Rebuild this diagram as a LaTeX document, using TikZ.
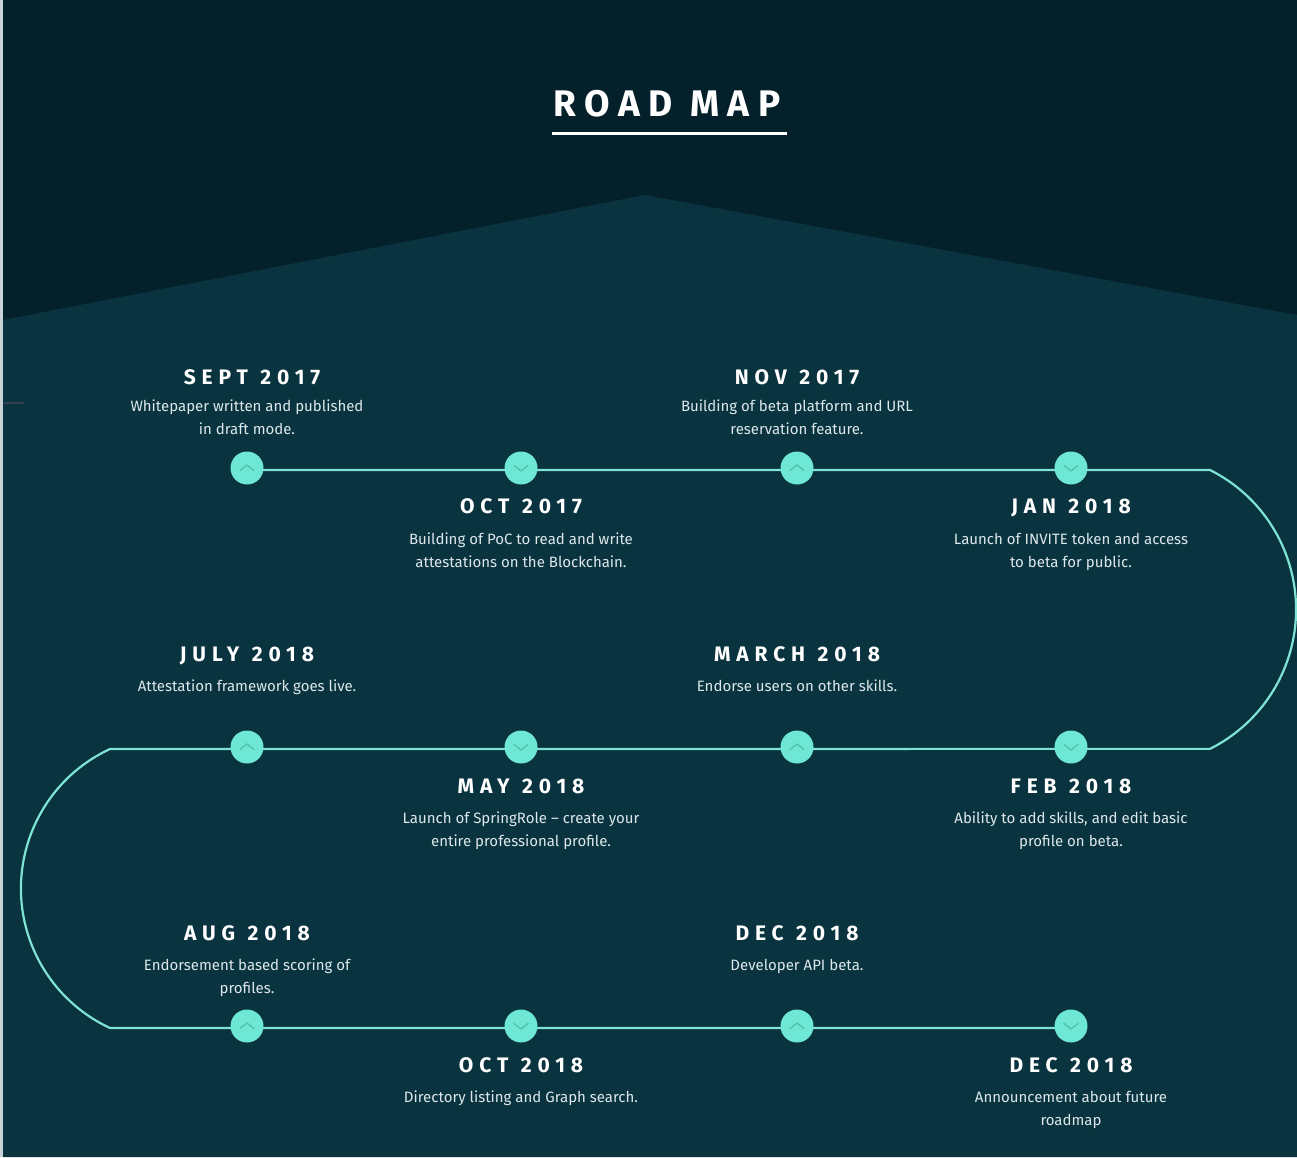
\documentclass[tikz,border=0pt]{standalone}
\usepackage{fontspec}
\setmainfont{Fira Sans}
\newfontfamily\headfont[LetterSpace=28,WordSpace=1.15]{Fira Sans}
\newfontfamily\titlefont[LetterSpace=23]{Fira Sans}
\definecolor{bgtop}{HTML}{04202A}
\definecolor{bgmain}{HTML}{0A3340}
\definecolor{mint}{HTML}{6EE8D4}
\definecolor{routec}{HTML}{7FE3D3}
\definecolor{chev}{HTML}{4CC4B0}
\definecolor{bodytxt}{HTML}{DCE8EA}
\definecolor{edgec}{HTML}{C9D2D6}
\definecolor{markc}{HTML}{34404E}
\begin{document}
\begin{tikzpicture}[x=1pt,y=-1pt,
  dot/.style={circle,fill=mint,minimum size=33pt,inner sep=0pt},
  route/.style={draw=routec,line width=2.2pt},
  chevup/.style={draw=chev,line width=1.4pt,line cap=round,line join=round},
  head/.style={font=\headfont\bfseries\fontsize{21}{24}\selectfont,text=white,anchor=base,inner sep=0pt},
  desc/.style={font=\fontsize{15}{23}\selectfont,text=bodytxt,align=center,anchor=north,inner sep=0pt},
]
\useasboundingbox (0,0) rectangle (1297,1157);
\fill[bgtop] (0,0) rectangle (1297,1157);
\fill[bgmain] (3,320) -- (645,195) -- (1297,315) -- (1297,1157) -- (3,1157) -- cycle;
\fill[edgec] (0,0) rectangle (2.5,1157);
\coordinate (m1) at (4,403); \coordinate (m2) at (24,403);
\draw[markc,line width=1.8pt] (m1) -- (m2);

% title
\node[font=\titlefont\bfseries\fontsize{37}{40}\selectfont,text=white,inner sep=0pt,anchor=base] (title) at (667,116) {ROAD MAP};
\coordinate (ul1) at (552,133); \coordinate (ul2) at (787,133);
\draw[white,line width=3pt] (ul1) -- (ul2);

% route
\foreach \r/\y in {1/470,2/749,3/1028}{
  \foreach \c/\x in {1/247,2/521,3/797,4/1071}{
    \coordinate (p\r\c) at (\x,\y);
  }
}
\coordinate (r1e) at (1210,470);
\coordinate (r2w) at (110,749);
\draw[route] (p11) -- (r1e) arc[start angle=-63.35,end angle=63.35,radius=156]
  -- (r2w) arc[start angle=245.1,end angle=114.9,radius=153.8] -- (p34);

% circles with chevrons
\foreach \r in {1,2,3}{
  \foreach \c in {1,3}{
    \node[dot] (c\r\c) at ([yshift=2pt]p\r\c) {};
    \draw[chevup] ([shift={(-7,2.5)}]c\r\c.center) -- ([shift={(0,-3)}]c\r\c.center) -- ([shift={(7,2.5)}]c\r\c.center);
  }
  \foreach \c in {2,4}{
    \node[dot] (c\r\c) at ([yshift=2pt]p\r\c) {};
    \draw[chevup] ([shift={(-7,-2.5)}]c\r\c.center) -- ([shift={(0,3)}]c\r\c.center) -- ([shift={(7,-2.5)}]c\r\c.center);
  }
}

% row 1
\node[head] (h1) at (252,384) {SEPT 2017};
\node[desc] (d1) at (247,400) {Whitepaper written and published\\in draft mode.};
\node[head] (h3) at (797,384) {NOV 2017};
\node[desc] (d3) at (797,400) {Building of beta platform and URL\\reservation feature.};
\node[head] (h2) at (521,513) {OCT 2017};
\node[desc] (d2) at (521,533) {Building of PoC to read and write\\attestations on the Blockchain.};
\node[head] (h4) at (1071,513) {JAN 2018};
\node[desc] (d4) at (1071,533) {Launch of INVITE token and access\\to beta for public.};

% row 2
\node[head] (h8) at (247,661) {JULY 2018};
\node[desc] (d8) at (247,680) {Attestation framework goes live.};
\node[head] (h6) at (797,661) {MARCH 2018};
\node[desc] (d6) at (797,680) {Endorse users on other skills.};
\node[head] (h7) at (521,793) {MAY 2018};
\node[desc] (d7) at (521,812) {Launch of SpringRole – create your\\entire professional profile.};
\node[head] (h5) at (1071,793) {FEB 2018};
\node[desc] (d5) at (1071,812) {Ability to add skills, and edit basic\\profile on beta.};

% row 3
\node[head] (h9) at (247,940) {AUG 2018};
\node[desc] (d9) at (247,959) {Endorsement based scoring of\\profiles.};
\node[head] (h11) at (797,940) {DEC 2018};
\node[desc] (d11) at (797,959) {Developer API beta.};
\node[head] (h10) at (521,1072) {OCT 2018};
\node[desc] (d10) at (521,1091) {Directory listing and Graph search.};
\node[head] (h12) at (1071,1072) {DEC 2018};
\node[desc] (d12) at (1071,1091) {Announcement about future\\roadmap};
\end{tikzpicture}
\end{document}
